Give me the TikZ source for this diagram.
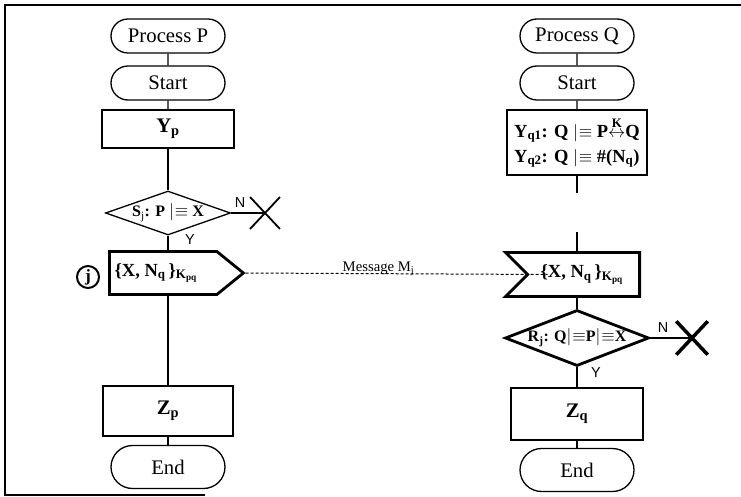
\documentclass[tikz,border=0pt]{standalone}
\usepackage{amsmath}
\usepackage{fontspec}
\setmainfont{Liberation Serif}
\setsansfont{Liberation Sans}
\usetikzlibrary{shapes.misc,shapes.geometric,shapes.symbols}
\newcommand{\belo}{\mathord{|\mkern-4mu\equiv}}
\newcommand{\bb}[1]{\textbf{#1}}
\newcommand{\nachr}{\bb{\{X, N}$_\bb{q}$\,\bb{\}}$_{\bb{K}_\bb{pq}}$}
\tikzstyle{term} = [draw, rounded rectangle,
	line width=1.3pt,
	minimum width=114pt,
	minimum height=34pt,
	inner sep=0pt,
	font=\huge
	]
\tikzstyle{block} = [draw, rectangle,
	line width=1.3pt,
	inner sep=0pt,
	font=\huge
	]
\tikzstyle{raute} = [draw, diamond,
	line width=1.3pt,
	inner sep=0pt
	]
\tikzstyle{sig} = [draw, signal,
	line width=2.8pt,
	inner sep=0pt
	]
\tikzstyle{kreuz} = [draw, cross out,
	minimum width=28pt,
	minimum height=30pt,
	inner sep=0pt
	]
\tikzstyle{pfeil} = [draw, line width=1.3pt]
\tikzstyle{yn} = [font=\sffamily\Large, inner sep=1pt]

\begin{document}
\begin{tikzpicture}[x=1pt, y=-1pt]
\useasboundingbox (0,0) rectangle (741,497);
% Rahmen
\draw [line width=2.5pt] (741,5) -- (5,5) -- (5,496);
\draw [line width=2pt] (5,495) -- (205,495);

% Prozess P
    \node [term] (procP) at (168,36) {Process P};
    \node [term] (startP) at (168,83) {Start};
    \node [block, minimum width=132pt, minimum height=38pt] (yp) at (168,129) {\bb{Y}$_\bb{p}$};
    \node [raute, minimum width=125pt, minimum height=44pt,
    	label={[font=\fontsize{16}{19}\selectfont]center:\bb{S}$_\text{j}$\bb{: P} $\belo$ \bb{X}}] (sj) at (168,213) {};
    \node [kreuz, line width=1.8pt] (xp) at (265,213) {};
    \node [sig, signal to=east, signal pointer angle=78,
    	minimum width=134pt, minimum height=43pt, anchor=west] (send) at (108,273) {};
    \node [font=\fontsize{18.5}{22}\selectfont] (sendtxt) at (156,273) {\nachr};
    \node [draw, circle, line width=2pt, minimum size=22pt, inner sep=0pt, font=\LARGE\bfseries] (kreis) at (88,277) {j};
    \node [block, minimum width=130pt, minimum height=50pt] (zp) at (168,411) {\bb{Z}$_\bb{p}$};
    \node [term, minimum height=43pt] (endP) at (168,467) {End};

    \node [yn] (np) at (240,203) {N};
    \node [yn] (jp) at (190,240) {Y};

% Prozess Q
    \node [term] (procQ) at (577,36) {Process Q};
    \node [term] (startQ) at (577,83) {Start};
    \node [block, minimum width=140pt, minimum height=65pt, align=left, font=\fontsize{18.5}{22}\selectfont] (yq) at (577,142.5)
    	{\bb{Y}$_\bb{q1}$\bb{: Q} $\belo$ \bb{P}$\stackrel{\bb{K}}{\leftrightarrow}$\bb{Q}\\[3pt]
    	 \bb{Y}$_\bb{q2}$\bb{: Q} $\belo$ \bb{\#(N}$_\bb{q}$\bb{)}};
    \coordinate (ga) at (577,193);
    \coordinate (gb) at (577,232);
    \node [sig, signal from=west, signal to=nowhere, signal pointer angle=90,
    	minimum width=134pt, minimum height=44pt, anchor=east] (recv) at (641,274.5) {};
    \node [font=\fontsize{18.5}{22}\selectfont] (recvtxt) at (582,274.5) {\nachr};
    \node [raute, line width=2.8pt, minimum width=144pt, minimum height=56pt,
    	label={[font=\fontsize{16}{19}\selectfont]center:\bb{R}$_\bb{j}$\bb{: Q}$\belo$\bb{P}$\belo$\bb{X}}] (rj) at (577,338) {};
    \node [kreuz, line width=3.5pt] (xq) at (692,338) {};
    \node [block, minimum width=132pt, minimum height=52pt] (zq) at (577,414) {\bb{Z}$_\bb{q}$};
    \node [term, minimum height=43pt] (endQ) at (577,470) {End};

    \node [yn] (nq) at (663,328) {N};
    \node [yn] (jq) at (596,373) {Y};

% Verbindungen
    \draw [pfeil] (procP) -- (startP);
    \draw [pfeil] (startP) -- (yp);
    \draw [pfeil] (yp) -- (sj);
    \draw [pfeil] (sj.south) -- (sj.south |- send.north);
    \draw [pfeil] (sj.south |- send.south) -- (zp);
    \draw [pfeil] (zp) -- (endP);
    \draw [pfeil] (sj.east) -- (xp.center);

    \draw [line width=1pt, dash pattern=on 3pt off 2pt] (send.east) --
    	node [pos=0.44, anchor=base, yshift=2pt, font=\fontsize{14.7}{17}\selectfont] (msg) {Message M$_\text{j}$}
    	([xshift=22pt]recv.west);

    \draw [pfeil] (procQ) -- (startQ);
    \draw [pfeil] (startQ) -- (yq);
    \draw [pfeil] (yq) -- (ga);
    \draw [pfeil] (gb) -- (gb |- recv.north);
    \draw [pfeil] (gb |- recv.south) -- (rj);
    \draw [pfeil] (rj) -- (zq);
    \draw [pfeil] (zq) -- (endQ);
    \draw [pfeil, line width=2.5pt] (rj.east) -- (xq.center);
\end{tikzpicture}
\end{document}
